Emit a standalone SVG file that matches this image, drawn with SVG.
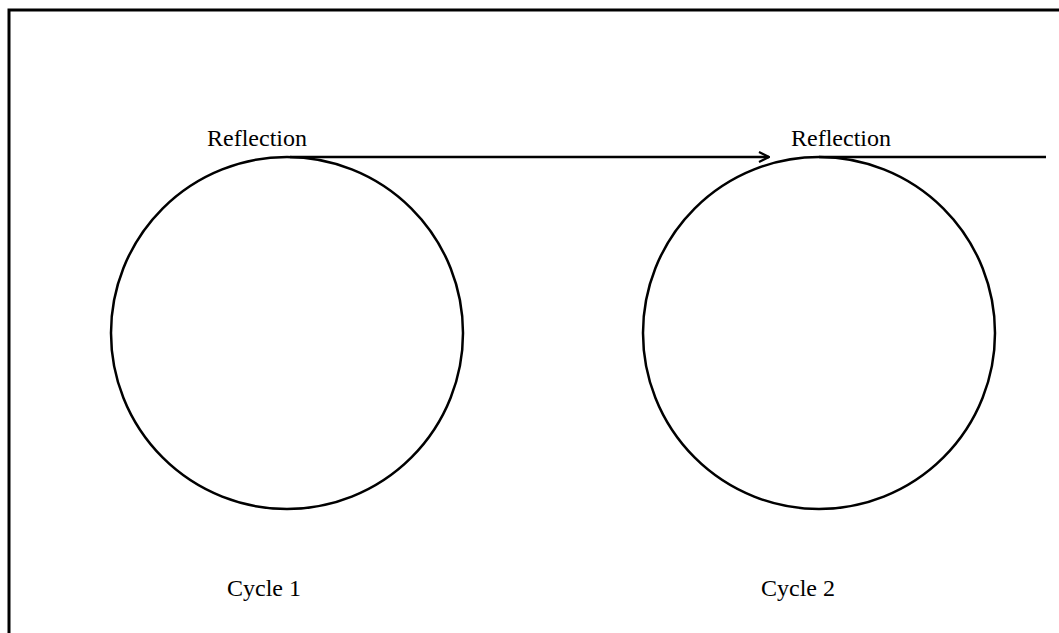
<svg xmlns="http://www.w3.org/2000/svg" width="1059" height="633" viewBox="0 0 1059 633">
<defs>
<style>
.frame{fill:none;stroke:#000;stroke-width:3}
.circ{fill:none;stroke:#000;stroke-width:2.5}
.conn{fill:none;stroke:#000;stroke-width:2.5}
.lbl{font-family:"Liberation Serif","Times New Roman",serif;font-size:24px;fill:#000}
</style>
<marker id="arr" viewBox="0 0 12 12" refX="11" refY="6" markerWidth="12" markerHeight="12" markerUnits="userSpaceOnUse" orient="auto">
<path d="M1,1 L11,6 L1,11" fill="none" stroke="#000" stroke-width="2.2"/>
</marker>
</defs>
<rect width="1059" height="633" fill="#fff"/>
<path class="frame" d="M9,633 V10 H1059"/>
<g id="cycle1">
<circle class="circ" cx="287" cy="333" r="176"/>
<text class="lbl" x="207" y="146">Reflection</text>
<text class="lbl" x="227" y="596">Cycle 1</text>
</g>
<g id="cycle2">
<circle class="circ" cx="819" cy="333" r="176"/>
<text class="lbl" x="791" y="146">Reflection</text>
<text class="lbl" x="761" y="596">Cycle 2</text>
</g>
<g id="connectors">
<path class="conn" d="M290,157 H769" marker-end="url(#arr)"/>
<path class="conn" d="M819,157 H1046"/>
</g>
</svg>
